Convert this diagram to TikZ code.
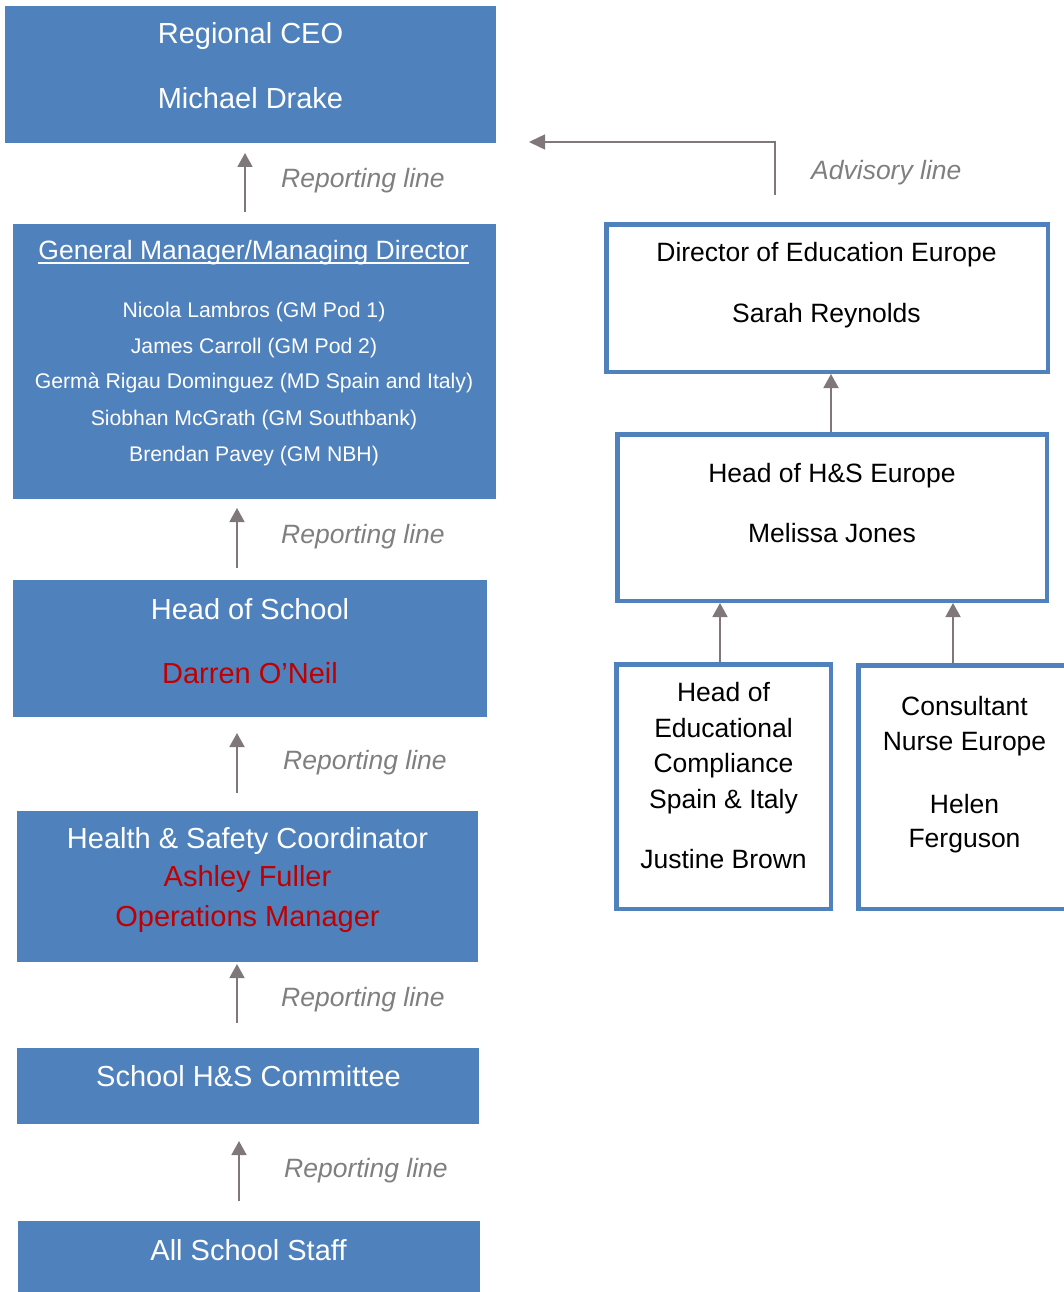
\documentclass[tikz,border=0pt]{standalone}
\usepackage{fontspec}
\setmainfont{Liberation Sans}
\usetikzlibrary{arrows.meta}
\definecolor{boxblue}{RGB}{79,129,189}
\definecolor{arrgray}{RGB}{127,119,121}
\definecolor{lblgray}{RGB}{127,127,127}
\definecolor{namered}{RGB}{192,0,0}
\newcommand\fsBig{\fontsize{29}{34}\selectfont}
\newcommand\fsMid{\fontsize{26.5}{31}\selectfont}
\newcommand\fsSmall{\fontsize{21.2}{25}\selectfont}
\begin{document}
\begin{tikzpicture}[x=1pt,y=-1pt,
  fillbox/.style={fill=boxblue, draw=none, inner sep=0, outer sep=0},
  openbox/.style={draw=boxblue, line width=4.5pt, fill=white, inner sep=0, outer sep=0},
  wtxt/.style={anchor=base, inner sep=0, font=\fsBig, text=white},
  rtxt/.style={anchor=base, inner sep=0, font=\fsBig, text=namered},
  btxt/.style={anchor=base, inner sep=0, font=\fsMid, text=black},
  ntxt/.style={anchor=base, inner sep=0, font=\fsSmall, text=white},
  lbl/.style={anchor=base west, inner sep=0, font=\fsMid\itshape, text=lblgray},
  rep/.style={draw=arrgray, line width=1.8pt, -{Triangle[length=14pt,width=15pt]}},
  adv/.style={draw=arrgray, line width=1.5pt, -{Triangle[length=16pt,width=15pt]}}
]
\useasboundingbox (0,0) rectangle (1064,1292);
\clip (0,0) rectangle (1064,1292);

% left column boxes
\node[fillbox, minimum width=491pt, minimum height=137pt] (ceo) at (250.5,74.5) {};
\node[fillbox, minimum width=483pt, minimum height=275pt] (gm) at (254.5,361.5) {};
\node[fillbox, minimum width=474pt, minimum height=137pt] (hos) at (250,648.5) {};
\node[fillbox, minimum width=461pt, minimum height=151pt] (hsc) at (247.5,886.5) {};
\node[fillbox, minimum width=462pt, minimum height=76pt] (comm) at (248,1086) {};
\node[fillbox, minimum width=462pt, minimum height=74pt] (staff) at (249,1258) {};

% right column boxes
\node[openbox, minimum width=441.5pt, minimum height=147.5pt] (dir) at (827,298) {};
\node[openbox, minimum width=429.5pt, minimum height=166.5pt] (hhs) at (832,517.5) {};
\node[openbox, minimum width=214.5pt, minimum height=244.5pt] (hed) at (723.5,786.5) {};
\node[openbox, minimum width=212.5pt, minimum height=243.5pt] (cons) at (964.5,787) {};

% texts left
\node[wtxt] (ceo1) at (250.5,44) {Regional CEO};
\node[wtxt] (ceo2) at (250.5,109) {Michael Drake};

\node[wtxt, font=\fsMid] (gmt) at (253.5,259) {General Manager/Managing Director};
\draw[white, line width=1.4pt] ([yshift=-4pt]gmt.base west) -- ([yshift=-4pt]gmt.base east);
\node[ntxt] (gm1) at (254,317) {Nicola Lambros (GM Pod 1)};
\node[ntxt] (gm2) at (254,353) {James Carroll (GM Pod 2)};
\node[ntxt] (gm3) at (254,388) {Germà Rigau Dominguez (MD Spain and Italy)};
\node[ntxt] (gm4) at (254,425) {Siobhan McGrath (GM Southbank)};
\node[ntxt] (gm5) at (254,461) {Brendan Pavey (GM NBH)};

\node[wtxt] (hos1) at (250,619) {Head of School};
\node[rtxt] (hos2) at (250,683) {Darren O’Neil};

\node[wtxt] (hsc1) at (247.5,848) {Health \& Safety Coordinator};
\node[rtxt] (hsc2) at (247.5,886) {Ashley Fuller};
\node[rtxt] (hsc3) at (247.5,926) {Operations Manager};

\node[wtxt] (comm1) at (248.5,1086) {School H\&S Committee};
\node[wtxt] (staff1) at (248.5,1260) {All School Staff};

% texts right
\node[btxt] (dir1) at (826.5,261) {Director of Education Europe};
\node[btxt] (dir2) at (826.5,322) {Sarah Reynolds};
\node[btxt] (hhs1) at (832,482) {Head of H\&S Europe};
\node[btxt] (hhs2) at (832,542) {Melissa Jones};
\node[btxt] (hed1) at (723.5,701) {Head of};
\node[btxt] (hed2) at (723.5,737) {Educational};
\node[btxt] (hed3) at (723.5,772) {Compliance};
\node[btxt] (hed4) at (723.5,808) {Spain \& Italy};
\node[btxt] (hed5) at (723.5,868) {Justine Brown};
\node[btxt] (cons1) at (964.5,715) {Consultant};
\node[btxt] (cons2) at (964.5,750) {Nurse Europe};
\node[btxt] (cons3) at (964.5,813) {Helen};
\node[btxt] (cons4) at (964.5,847) {Ferguson};

% labels
\node[lbl] (l1) at (281,188) {Reporting line};
\node[lbl] (l2) at (281,543) {Reporting line};
\node[lbl] (l3) at (283,769) {Reporting line};
\node[lbl] (l4) at (281,1006) {Reporting line};
\node[lbl] (l5) at (284,1177) {Reporting line};
\node[lbl] (l6) at (811,179) {Advisory line};

% x positions of connectors
\coordinate (x1) at (245,0);
\coordinate (x2) at (237,0);
\coordinate (x3) at (239,0);
\coordinate (x4) at (831,0);
\coordinate (x5) at (720,0);
\coordinate (x6) at (953,0);

% reporting connectors
\draw[rep, shorten <=12pt, shorten >=10pt] (gm.north -| x1) -- (ceo.south -| x1);
\draw[rep, shorten <=12pt, shorten >=9pt] (hos.north -| x2) -- (gm.south -| x2);
\draw[rep, shorten <=18pt, shorten >=16pt] (hsc.north -| x2) -- (hos.south -| x2);
\draw[rep, shorten <=25pt, shorten >=2pt] (comm.north -| x2) -- (hsc.south -| x2);
\draw[rep, shorten <=20pt, shorten >=17pt] (staff.north -| x3) -- (comm.south -| x3);

\draw[rep, shorten <=2.25pt, shorten >=2.25pt] (hhs.north -| x4) -- (dir.south -| x4);
\draw[rep, shorten <=2.25pt, shorten >=2.25pt] (hed.north -| x5) -- (hhs.south -| x5);
\draw[rep, shorten <=2.25pt, shorten >=2.25pt] (cons.north -| x6) -- (hhs.south -| x6);

% advisory connector
\coordinate (advS) at (775,195);
\coordinate (advE) at (529,142);
\draw[adv] (advS) |- (advE);
\end{tikzpicture}
\end{document}
